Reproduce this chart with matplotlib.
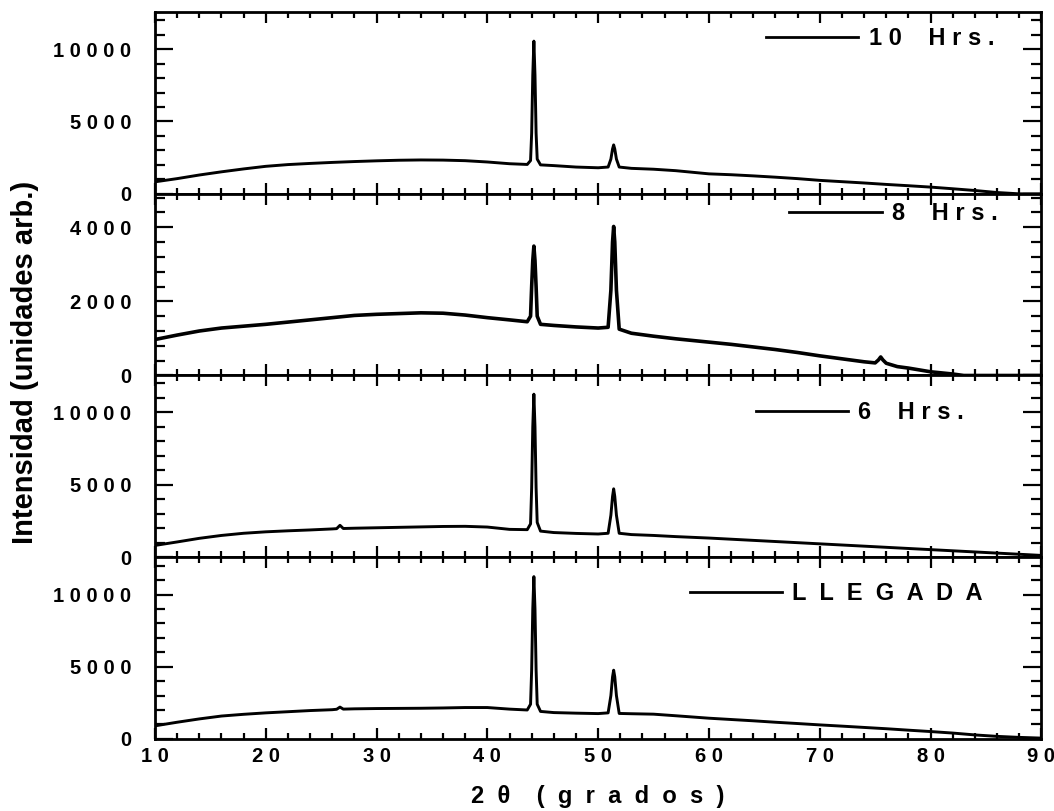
import matplotlib.pyplot as plt
from matplotlib.ticker import MultipleLocator, FixedLocator

plt.rcParams['font.family'] = ['Liberation Sans', 'DejaVu Sans']
plt.rcParams['font.weight'] = 'bold'

# 2theta (grados) and intensity, top panel first
x_10h = [10, 12, 14, 16, 18, 20, 22, 24, 26, 28, 30, 32, 34, 36, 38, 40, 42,
         43.6, 43.9, 44.0, 44.1, 44.2, 44.3, 44.4, 44.5, 44.8, 46, 48, 50,
         50.9, 51.15, 51.3, 51.4, 51.5, 51.65, 51.9, 53, 55, 57,
         60, 62, 64, 66, 68, 70, 72, 74, 76, 78, 80, 82, 84, 86, 88, 90]
y_10h = [830, 1050, 1300, 1520, 1720, 1900, 2020, 2100, 2170, 2230, 2280, 2320, 2340, 2330, 2290, 2200, 2080,
         2030, 2300, 4200, 8200, 10550, 8200, 4200, 2400, 2000, 1950, 1850, 1800,
         1850, 2400, 3100, 3380, 3100, 2400, 1850, 1760, 1700, 1600,
         1380, 1320, 1240, 1150, 1050, 930, 840, 750, 650, 560, 465, 350, 230, 90, 0, 0]

x_8h = [10, 12, 14, 16, 18, 20, 22, 24, 26, 28, 30, 32, 34, 36, 38, 40, 42,
        43.6, 43.9, 44.0, 44.1, 44.2, 44.3, 44.4, 44.5, 44.8, 46, 48, 50,
        50.9, 51.15, 51.3, 51.4, 51.5, 51.65, 51.9, 53, 55, 57,
        60, 62, 64, 66, 68, 70, 72, 74, 75.0, 75.3, 75.5, 75.7, 76.0,
        77, 78, 80, 82, 83, 86, 88, 90]
y_8h = [970, 1090, 1200, 1280, 1330, 1380, 1440, 1500, 1560, 1620, 1650, 1670, 1690, 1680, 1630, 1560, 1500,
        1450, 1600, 2400, 3100, 3490, 3100, 2400, 1600, 1380, 1350, 1310, 1280,
        1300, 2300, 3600, 4020, 3600, 2300, 1250, 1140, 1060, 990,
        900, 840, 770, 700, 620, 530, 450, 370, 340, 420, 500, 420, 330,
        240, 200, 100, 40, 0, 0, 0, 0]

x_6h = [10, 12, 14, 16, 18, 20, 22, 24, 26, 26.4, 26.7, 27.0, 28, 30, 32, 34, 36, 38, 40, 42,
        43.6, 43.9, 44.0, 44.1, 44.2, 44.3, 44.4, 44.5, 44.8, 46, 48, 50,
        50.9, 51.15, 51.3, 51.4, 51.5, 51.65, 51.9, 53, 55, 57,
        60, 62, 64, 66, 68, 70, 72, 74, 76, 78, 80, 82, 84, 86, 88, 90]
y_6h = [810, 1050, 1300, 1500, 1650, 1750, 1820, 1880, 1950, 1970, 2200, 1980, 2000, 2030, 2060, 2090, 2120, 2130, 2080, 1920,
        1900, 2300, 4800, 9000, 11260, 9000, 4800, 2400, 1800, 1700, 1640, 1600,
        1650, 2900, 4200, 4720, 4200, 2900, 1650, 1560, 1500, 1420,
        1320, 1240, 1160, 1080, 1000, 920, 840, 760, 680, 600, 520, 440, 360, 280, 200, 120]

x_lleg = [10, 12, 14, 16, 18, 20, 22, 24, 26, 26.4, 26.7, 27.0, 28, 30, 32, 34, 36, 38, 40, 42,
          43.6, 43.9, 44.0, 44.1, 44.2, 44.3, 44.4, 44.5, 44.8, 46, 48, 50,
          50.9, 51.15, 51.3, 51.4, 51.5, 51.65, 51.9, 53, 55, 57,
          60, 62, 64, 66, 68, 70, 72, 74, 76, 78, 80, 82, 84, 86, 88, 90]
y_lleg = [900, 1150, 1380, 1580, 1700, 1800, 1880, 1960, 2020, 2050, 2200, 2060, 2080, 2100, 2110, 2120, 2140, 2170, 2170, 2060,
          2000, 2400, 4800, 9000, 11250, 9000, 4800, 2400, 1900, 1820, 1780, 1750,
          1800, 3000, 4300, 4760, 4300, 3000, 1760, 1740, 1710, 1600,
          1430, 1340, 1250, 1150, 1060, 966, 880, 790, 700, 600, 504, 400, 270, 170, 100, 50]

labels = ['1 0    H r s .', '8    H r s .', '6    H r s .', 'L  L  E  G  A  D  A']
xticks = [10, 20, 30, 40, 50, 60, 70, 80, 90]
xticklabels = ['1 0', '2 0', '3 0', '4 0', '5 0', '6 0', '7 0', '8 0', '9 0']
yticks_big = [0, 5000, 10000]
yticklabels_big = ['0', '5 0 0 0', '1 0 0 0 0']
yticks_8h = [0, 2000, 4000]
yticklabels_8h = ['0', '2 0 0 0', '4 0 0 0']

data = [(x_10h, y_10h), (x_8h, y_8h), (x_6h, y_6h), (x_lleg, y_lleg)]
ylims = [12550, 4900, 12550, 12600]
leg_pos = [(0.947, 0.856), (0.951, 0.891), (0.913, 0.797), (0.934, 0.80)]

fig, axes = plt.subplots(4, 1, figsize=(10.54, 8.11), dpi=100, sharex=True)
fig.subplots_adjust(left=0.147, right=0.988, top=0.985, bottom=0.089, hspace=0)

for i, ax in enumerate(axes):
    x, y = data[i]
    ax.plot(x, y, color='black', lw=2.6 if i == 1 else 2.1, label=labels[i])
    ax.set_xlim(10, 90)
    ax.set_ylim(0, ylims[i])
    if i == 1:
        ax.yaxis.set_major_locator(FixedLocator(yticks_8h))
        ax.set_yticklabels(yticklabels_8h)
        ax.yaxis.set_minor_locator(MultipleLocator(400))
    else:
        ax.yaxis.set_major_locator(FixedLocator(yticks_big))
        ax.set_yticklabels(yticklabels_big)
        ax.yaxis.set_minor_locator(MultipleLocator(1000))
    ax.xaxis.set_major_locator(FixedLocator(xticks))
    ax.xaxis.set_minor_locator(MultipleLocator(2))
    ax.tick_params(axis='both', which='both', direction='in', top=True, right=True, width=1.6)
    ax.tick_params(axis='y', which='major', length=13, pad=17, labelsize=14.5)
    ax.tick_params(axis='y', which='minor', length=7)
    ax.tick_params(axis='x', which='major', length=8, pad=6, labelsize=14.5)
    ax.tick_params(axis='x', which='minor', length=4.5)
    for sp in ax.spines.values():
        sp.set_linewidth(2)
    leg = ax.legend(loc='center right', bbox_to_anchor=leg_pos[i], frameon=False,
                    handlelength=3.9, handletextpad=0.45, borderaxespad=0, borderpad=0,
                    prop={'size': 17, 'weight': 'bold'})
    for h in leg.get_lines():
        h.set_linewidth(2.0)

axes[-1].set_xticklabels(xticklabels)

fig.text(0.024, 0.553, 'Intensidad (unidades arb.)', rotation=90, ha='center', va='center',
         fontsize=21, fontweight='bold')
fig.text(0.567, 0.018, '2  θ    (  g  r  a  d  o  s  )', ha='center', va='center',
         fontsize=17, fontweight='bold')

fig.savefig('out.png', dpi=100)
